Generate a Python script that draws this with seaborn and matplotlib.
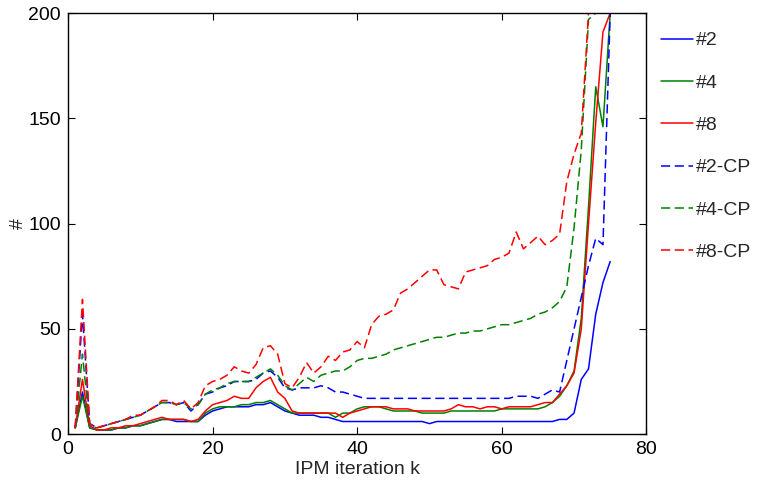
import numpy as np
import pandas as pd
import matplotlib
matplotlib.use("Agg")
import matplotlib.pyplot as plt
import seaborn as sns

k = list(range(1, 76))

s2 = [3, 20, 3, 2, 2, 2, 3, 3, 4, 4, 5, 6, 7, 7, 6, 6, 6, 6, 9, 11,
      12, 13, 13, 13, 13, 14, 14, 15, 13, 11, 10, 9, 9, 9, 8, 8, 7, 6, 6, 6,
      6, 6, 6, 6, 6, 6, 6, 6, 6, 5, 6, 6, 6, 6, 6, 6, 6, 6, 6, 6,
      6, 6, 6, 6, 6, 6, 6, 7, 7, 10, 26, 31, 57, 72, 82]

s4 = [3, 18, 3, 2, 2, 2, 3, 3, 4, 4, 5, 6, 7, 7, 7, 7, 6, 6, 10, 12,
      13, 13, 13, 14, 14, 15, 15, 16, 14, 12, 10, 10, 10, 10, 10, 10, 8, 10, 10, 12,
      13, 13, 13, 12, 11, 11, 11, 11, 10, 10, 10, 10, 11, 11, 11, 11, 11, 11, 11, 12,
      12, 12, 12, 12, 12, 13, 15, 18, 23, 30, 55, 108, 165, 146, 200]

s8 = [3, 26, 4, 2, 2, 3, 3, 4, 4, 5, 6, 7, 8, 7, 7, 7, 6, 7, 11, 14,
      15, 16, 18, 17, 17, 22, 25, 27, 20, 17, 11, 10, 10, 10, 10, 10, 10, 8, 10, 11,
      12, 13, 13, 13, 12, 12, 12, 11, 11, 11, 11, 11, 12, 14, 13, 13, 12, 13, 13, 12,
      13, 13, 13, 13, 14, 15, 15, 19, 23, 29, 50, 100, 148, 191, 200]

s2cp = [3, 57, 5, 3, 4, 5, 6, 7, 8, 9, 11, 13, 15, 15, 14, 15, 11, 14, 19, 20,
        22, 23, 25, 25, 25, 26, 29, 30, 27, 22, 21, 22, 22, 22, 23, 22, 20, 20, 19, 18,
        17, 17, 17, 17, 17, 17, 17, 17, 17, 17, 17, 17, 17, 17, 17, 17, 17, 17, 17, 17,
        17, 18, 18, 18, 17, 19, 21, 20, 35, 50, 65, 80, 93, 90, 200]

s4cp = [3, 38, 4, 3, 4, 5, 6, 7, 8, 9, 11, 13, 15, 15, 14, 15, 12, 14, 19, 21,
        22, 24, 25, 25, 25, 27, 29, 31, 28, 23, 21, 24, 27, 25, 28, 29, 30, 30, 32, 35,
        36, 36, 37, 38, 40, 41, 42, 43, 44, 45, 46, 46, 47, 48, 48, 49, 49, 50, 51, 52,
        52, 53, 54, 55, 57, 58, 60, 63, 70, 98, 135, 197, 200, 200, 200]

s8cp = [3, 64, 5, 3, 4, 5, 6, 7, 9, 9, 11, 13, 16, 16, 14, 16, 12, 15, 23, 25,
        26, 28, 32, 30, 29, 33, 41, 42, 38, 24, 22, 27, 34, 29, 32, 37, 35, 39, 40, 44,
        41, 52, 56, 57, 59, 67, 69, 72, 75, 78, 78, 71, 70, 69, 77, 78, 79, 80, 83, 84,
        86, 96, 88, 91, 94, 90, 92, 95, 120, 133, 143, 200, 200, 200, 200]

names = ["#2", "#4", "#8", "#2-CP", "#4-CP", "#8-CP"]
series = [s2, s4, s8, s2cp, s4cp, s8cp]

df = pd.concat([pd.DataFrame({"k": k, "val": v, "name": n}) for n, v in zip(names, series)],
               ignore_index=True)

sns.set_theme(style="ticks")
plt.rcParams["font.family"] = ["Liberation Sans", "DejaVu Sans"]

palette = {"#2": "#0000ff", "#4": "#008000", "#8": "#ff0000",
           "#2-CP": "#0000ff", "#4-CP": "#008000", "#8-CP": "#ff0000"}
dashes = {"#2": "", "#4": "", "#8": "",
          "#2-CP": (6, 3), "#4-CP": (6, 3), "#8-CP": (6, 3)}

fig = plt.figure(figsize=(7.64, 4.84), dpi=100)
ax = fig.add_axes([0.089, 0.103, 0.757, 0.870])

sns.lineplot(data=df, x="k", y="val", hue="name", style="name",
             hue_order=names, style_order=names, palette=palette, dashes=dashes,
             linewidth=1.1, legend=False, ax=ax, sort=False)

ax.set_xlim(0, 80)
ax.set_ylim(0, 200)
ax.set_xticks([0, 20, 40, 60, 80])
ax.set_yticks([0, 50, 100, 150, 200])
ax.set_xlabel("IPM iteration k", fontsize=14, labelpad=2)
ax.set_ylabel("#", fontsize=14, labelpad=1)
ax.tick_params(direction="in", top=True, right=True, length=5, width=0.8,
               labelsize=14, colors="black", pad=5)
for sp in ax.spines.values():
    sp.set_visible(True)
    sp.set_linewidth(1.0)
    sp.set_color("black")

lines = ax.get_lines()[:6]
leg = ax.legend(lines, names, loc="upper left", bbox_to_anchor=(1.0, 0.99),
                frameon=False, fontsize=14, handlelength=1.65, handletextpad=0.15,
                labelspacing=1.27, borderaxespad=0.35)

fig.savefig("out.png", dpi=100)
